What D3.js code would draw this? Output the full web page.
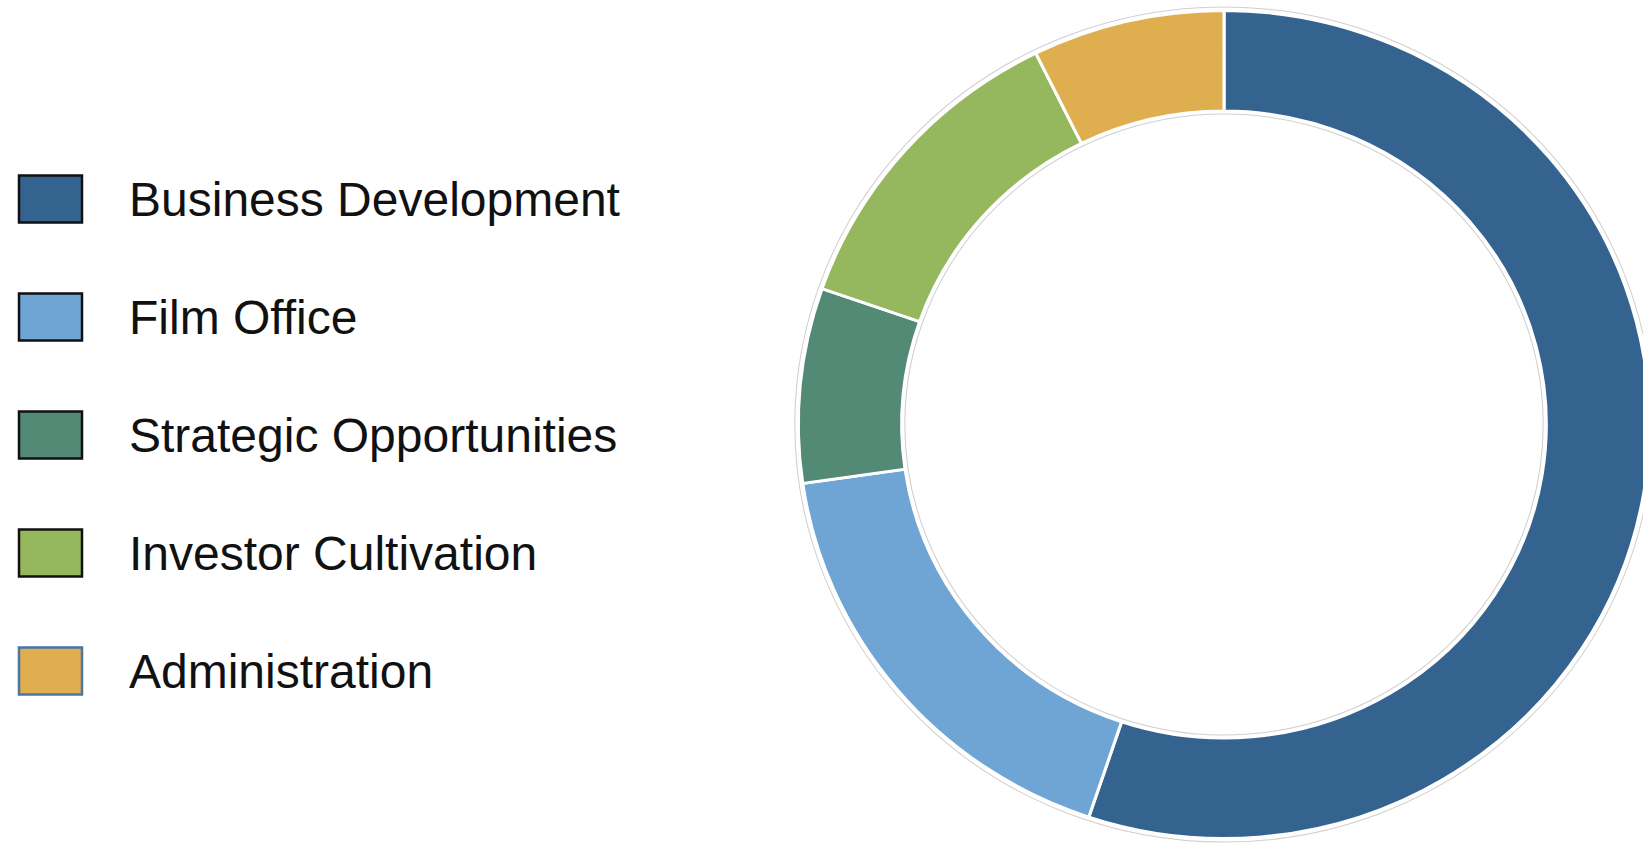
<!DOCTYPE html>
<html>
<head>
<meta charset="utf-8">
<script src="https://cdn.jsdelivr.net/npm/d3@7"></script>
<style>
  body { margin: 0; background: #fff; }
  svg { display: block; }
  .legend text { font-family: "Liberation Sans", Arial, sans-serif; font-size: 48px; fill: #111; }
</style>
</head>
<body>
<div id="chart"></div>
<script>
// budget split (percent of total)
var categories = ['Business Development', 'Film Office', 'Strategic Opportunities', 'Investor Cultivation', 'Administration'];
var values = [55.2, 17.6, 7.6, 12.4, 7.3];
var colors = ['#34638f', '#6fa5d4', '#528a76', '#95b75d', '#dfaf4f'];
var legendBorders = ['#111', '#111', '#111', '#111', '#4a76a8'];

var width = 1643, height = 844;

var svg = d3.select('#chart').append('svg')
    .attr('width', width)
    .attr('height', height);

svg.append('rect').attr('width', width).attr('height', height).attr('fill', '#fff');

// donut - the picture is slightly stretched horizontally so scale x a bit
var rOut = 414, rIn = 313.5;
var donut = svg.append('g')
    .attr('transform', 'translate(1224,424.5) scale(1.028,1)');

var pie = d3.pie().sort(null).value(function(d) { return d; });
var arc = d3.arc().innerRadius(rIn).outerRadius(rOut);

donut.selectAll('path.slice')
    .data(pie(values))
    .enter().append('path')
    .attr('class', 'slice')
    .attr('d', arc)
    .attr('fill', function(d, i) { return colors[i]; })
    .attr('stroke', '#fff')
    .attr('stroke-width', 3)
    .attr('stroke-linejoin', 'miter');

// faint grey rims just outside / inside the ring
donut.append('circle').attr('r', rOut + 3.5)
    .attr('fill', 'none').attr('stroke', '#cfcfcf').attr('stroke-width', 1);
donut.append('circle').attr('r', rIn - 3)
    .attr('fill', 'none').attr('stroke', '#cfcfcf').attr('stroke-width', 1);

// legend
var y = d3.scaleBand()
    .domain(categories)
    .range([140, 730])
    .paddingInner(0)
    .paddingOuter(0);

var legend = svg.append('g').attr('class', 'legend');

var item = legend.selectAll('g.item')
    .data(categories)
    .enter().append('g')
    .attr('class', 'item')
    .attr('transform', function(d) { return 'translate(0,' + (y(d) + y.bandwidth() / 2) + ')'; });

item.append('rect')
    .attr('x', 19)
    .attr('y', -23.5)
    .attr('width', 63)
    .attr('height', 47)
    .attr('fill', function(d, i) { return colors[i]; })
    .attr('stroke', function(d, i) { return legendBorders[i]; })
    .attr('stroke-width', 2.5);

item.append('text')
    .attr('x', 129)
    .attr('y', 17)
    .text(function(d) { return d; });
</script>
</body>
</html>
